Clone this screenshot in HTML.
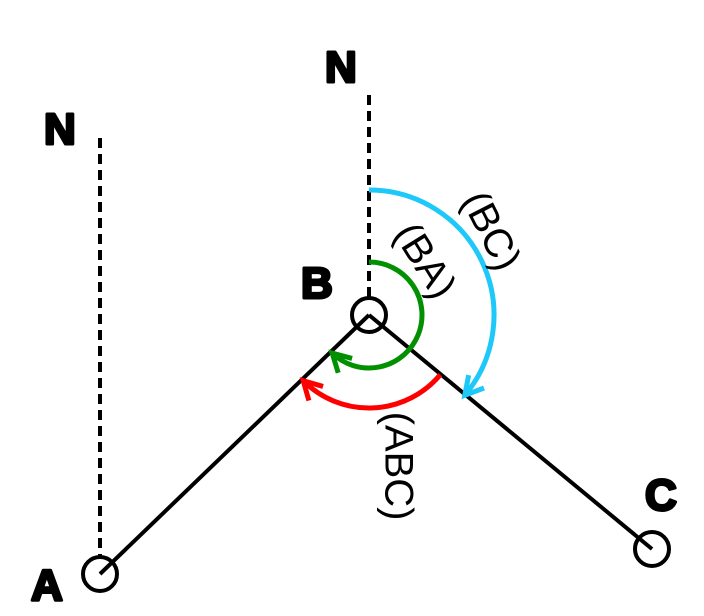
<!DOCTYPE html>
<html><head><meta charset="utf-8"><style>
body{margin:0;background:#fff}
svg{display:block}
text{font-family:"Liberation Sans",sans-serif}
</style></head><body>
<svg width="704" height="616" viewBox="0 0 704 616">
<g stroke="#000" stroke-width="4" stroke-dasharray="10,6" fill="none">
<line x1="100" y1="138" x2="100" y2="556"/>
<line x1="369" y1="95" x2="369" y2="300"/>
</g>
<g stroke="#000" stroke-width="4" fill="none">
<line x1="100" y1="574" x2="369" y2="315"/>
<line x1="369" y1="315" x2="652" y2="549"/>
<circle cx="100" cy="574" r="17"/>
<circle cx="369" cy="315" r="17"/>
<circle cx="652" cy="549" r="17"/>
</g>
<g fill="none" stroke-width="5">
<path id="g" stroke="#009000"/>
<path id="b" stroke="#1ec8f8"/>
<path id="r" stroke="#ff0000"/>
</g>
<g font-weight="bold" font-size="44" fill="#000" stroke="#000" stroke-width="3" stroke-linejoin="round">
<text x="44" y="144">N</text>
<text x="325" y="82">N</text>
<text x="301" y="298">B</text>
<text x="31" y="600">A</text>
<text x="645" y="510">C</text>
</g>
<g font-size="40" fill="#000" text-anchor="middle">
<text transform="translate(489,232) rotate(63)" dominant-baseline="middle">(BC)</text>
<text transform="translate(423,262) rotate(58)" dominant-baseline="middle">(BA)</text>
<text transform="translate(396,466) rotate(90)" dominant-baseline="middle">(ABC)</text>
</g>
</svg>
<script>
const cx=369, cy=315;
const arcs=[["g",53,-90,134],["b",125,-90,40],["r",93,40,135]];
arcs.forEach(([id,r,a0,a1])=>{
  const d2r=Math.PI/180;
  const p=a=>[cx+r*Math.cos(a*d2r),cy+r*Math.sin(a*d2r)];
  const s=p(a0),e=p(a1);
  const large=(a1-a0)>180?1:0;
  const t=[-Math.sin(a1*d2r),Math.cos(a1*d2r)];
  const n=[Math.cos(a1*d2r),Math.sin(a1*d2r)];
  const L=18,W=10;
  const h1=[e[0]-t[0]*L+n[0]*W,e[1]-t[1]*L+n[1]*W];
  const h2=[e[0]-t[0]*L-n[0]*W,e[1]-t[1]*L-n[1]*W];
  document.getElementById(id).setAttribute('d',
    `M${s[0]},${s[1]} A${r},${r} 0 ${large} 1 ${e[0]},${e[1]} M${h1[0]},${h1[1]} L${e[0]},${e[1]} L${h2[0]},${h2[1]}`);
});
</script>
</body></html>
